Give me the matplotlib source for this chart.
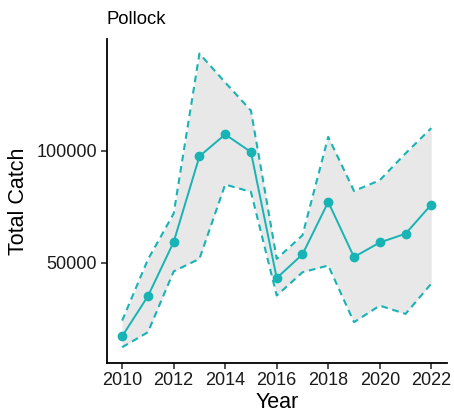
import matplotlib
matplotlib.use("Agg")
import matplotlib.pyplot as plt

plt.rcParams['font.family'] = ['Liberation Sans', 'DejaVu Sans']

years = [2010, 2011, 2012, 2013, 2014, 2015, 2016, 2017, 2018, 2019, 2020, 2021, 2022]
catch_mean = [17200, 35100, 59300, 97600, 107400, 99500, 43200, 53800, 77200, 52600, 59100, 63000, 76000]
catch_lower = [12300, 19000, 46200, 51800, 85000, 81700, 35400, 45800, 48800, 23500, 30900, 27200, 40700]
catch_upper = [24200, 51500, 72000, 143500, 130600, 118000, 51800, 62300, 106300, 82100, 86900, 98900, 110200]
y_ticks = [50000, 100000]
x_ticks = [2010, 2012, 2014, 2016, 2018, 2020, 2022]
title = "Pollock"

teal = '#17B3B5'

fig = plt.figure(figsize=(4.54, 4.12), dpi=100)
ax = fig.add_axes([0.235, 0.1197, 0.749, 0.7856])

ax.fill_between(years, catch_lower, catch_upper, color='#E8E8E8', lw=0, zorder=1)
ax.plot(years, catch_upper, color=teal, lw=1.5, dashes=(3.2, 2.3), zorder=2)
ax.plot(years, catch_lower, color=teal, lw=1.5, dashes=(3.2, 2.3), zorder=2)
ax.plot(years, catch_mean, color=teal, lw=1.4, marker='o', ms=6, zorder=3)

ax.set_xlim(2009.4, 2022.6)
ax.set_ylim(5400, 150000)
ax.set_xticks(x_ticks)
ax.set_yticks(y_ticks)
ax.set_xticklabels([str(t) for t in x_ticks])
ax.set_yticklabels([str(t) for t in y_ticks])

for s in ['top', 'right']:
    ax.spines[s].set_visible(False)
for s in ['left', 'bottom']:
    ax.spines[s].set_linewidth(1.3)
    ax.spines[s].set_color('black')
ax.tick_params(axis='both', direction='out', length=4, width=1.1, color='#222222',
               labelsize=13, labelcolor='#1a1a1a', pad=3)

ax.set_xlabel('Year', fontsize=15.5, labelpad=2)
ax.set_ylabel('Total Catch', fontsize=15.5, labelpad=5)
ax.set_title(title, loc='left', fontsize=13.3, pad=11)

fig.savefig('out.png', dpi=100)
